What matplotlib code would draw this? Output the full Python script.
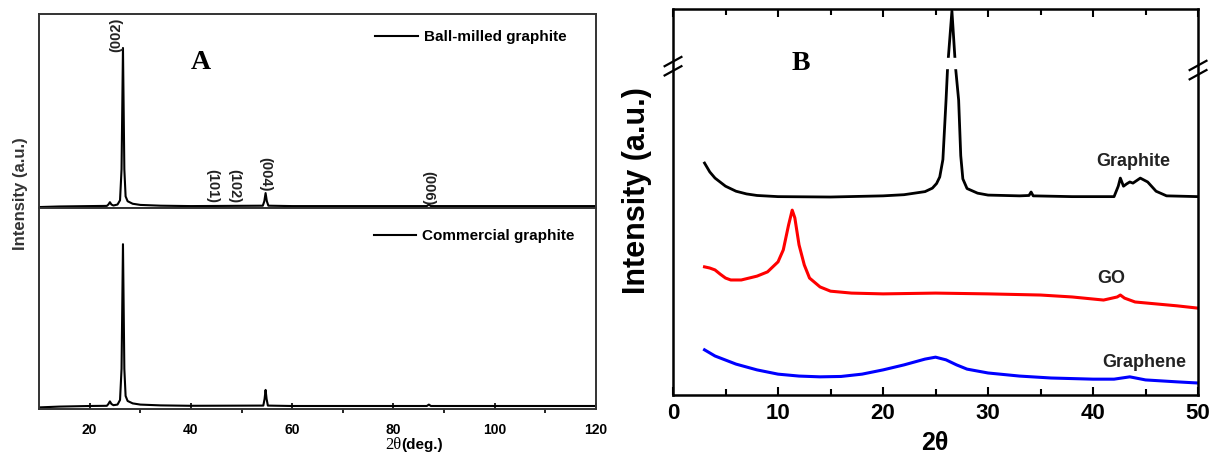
import matplotlib
matplotlib.use("Agg")
import matplotlib.pyplot as plt

plt.rcParams['font.family'] = ['Liberation Sans', 'DejaVu Sans']
plt.rcParams['font.weight'] = 'bold'

# ---- panel A data (intensity in % of panel height)
ball_x = [10, 14, 20, 23.4, 23.7, 24.0, 24.3, 24.7, 25.5, 26.0, 26.3, 26.58, 26.85, 27.1, 27.5,
          28.5, 30, 34, 40, 54.2, 54.5, 54.75, 55.0, 55.3, 60, 86.6, 87.0, 87.4, 100, 120]
ball_y = [0.5, 0.8, 1.0, 1.1, 1.8, 3.0, 1.8, 1.3, 1.8, 4.0, 20, 82.5, 20, 6, 3.5,
          2.2, 1.6, 1.2, 1.0, 1.2, 3.5, 7.7, 3.5, 1.2, 1.0, 1.0, 1.8, 1.0, 1.0, 1.0]

com_x = [10, 14, 20, 23.4, 23.7, 24.0, 24.3, 24.7, 25.5, 26.0, 26.3, 26.58, 26.85, 27.1, 27.5,
         28.5, 30, 34, 40, 54.3, 54.55, 54.75, 54.95, 55.2, 60, 86.6, 87.0, 87.4, 100, 120]
com_y = [0.8, 1.2, 1.5, 1.6, 2.5, 3.8, 2.5, 1.9, 2.2, 4.5, 20, 82, 20, 6.5, 4,
         2.8, 2.2, 1.8, 1.6, 1.7, 5, 9.5, 5, 1.7, 1.5, 1.5, 2.2, 1.5, 1.5, 1.5]

peak_labels = ["(002)", "(101)", "(102)", "(004)", "(006)"]
peak_pos = [25.3, 44.2, 48.5, 54.6, 86.9]
peak_y = [98, 2.5, 2.5, 8.5, 1.5]
peak_rot = [90, 270, 270, 270, 270]

# ---- panel B data
graphite_x = [3, 3.5, 4, 5, 6, 7, 8, 10, 15, 20, 22, 24, 24.7, 25.1, 25.4, 25.7, 26.0, 26.15, 26.56,
              26.9, 27.2, 27.4, 27.6, 28, 29, 30, 33, 33.9, 34.1, 34.3, 38, 42, 42.4, 42.6,
              42.9, 43.2, 43.5, 43.8, 44.5, 45.2, 46, 47, 50]
graphite_y = [60.1, 57.8, 56.2, 54.1, 52.8, 52.1, 51.7, 51.4, 51.3, 51.6, 51.9, 52.7, 53.6, 54.8,
              56.5, 61, 76.4, 85, 99.5, 85, 76.4, 62, 56, 53.5, 52.3, 51.8, 51.6, 51.7, 52.6, 51.6,
              51.4, 51.4, 54.1, 56.2, 54.1, 54.7, 55.2, 54.9, 56.2, 55.2, 52.8, 51.6, 51.4]

go_x = [3, 3.5, 4, 4.5, 5, 5.5, 6.5, 8, 9, 10, 10.5, 11, 11.35, 11.6, 12, 12.5, 13, 14, 15,
        17, 20, 25, 30, 35, 38, 41, 42.3, 42.6, 43, 44, 46, 48, 50]
go_y = [33.2, 32.9, 32.4, 31.3, 30.3, 29.8, 29.8, 30.8, 31.9, 34.5, 37.6, 44, 47.9, 45.9, 38.9,
        33.7, 30.3, 28, 26.9, 26.4, 26.2, 26.4, 26.2, 25.9, 25.4, 24.6, 25.4, 25.9, 25.1,
        24.1, 23.6, 23.1, 22.5]

graphene_x = [3, 4, 6, 8, 10, 12, 14, 16, 18, 20, 22, 24, 25, 26, 27, 28, 30, 33, 36, 40,
              42, 43.5, 45, 48, 50]
graphene_y = [11.7, 10.1, 8.0, 6.5, 5.4, 4.9, 4.7, 4.8, 5.4, 6.5, 7.8, 9.3, 9.8, 9.1, 7.8,
              6.7, 5.7, 4.9, 4.4, 4.1, 4.1, 4.7, 3.9, 3.4, 3.1]

fig = plt.figure(figsize=(12.12, 4.54), dpi=100)

# ================= panel A =================
axA1 = fig.add_axes([0.0322, 0.5418, 0.4595, 0.4273])
axA2 = fig.add_axes([0.0322, 0.0991, 0.4595, 0.4427])

axA1.plot(ball_x, ball_y, color='black', lw=1.5, label='Ball-milled graphite')
axA2.plot(com_x, com_y, color='black', lw=1.5, label='Commercial graphite')

for ax in (axA1, axA2):
    ax.set_xlim(10, 120)
    ax.set_ylim(0, 100)
    ax.set_yticks([])
    for s in ax.spines.values():
        s.set_linewidth(1.4)
        s.set_color('#333333')

axA1.set_xticks([])
axA2.set_xticks([20, 40, 60, 80, 100, 120])
axA2.set_xticks([30, 50, 70, 90, 110], minor=True)
axA2.tick_params(axis='x', which='major', direction='in', length=4, width=1.2, labelsize=10, pad=10)
axA2.tick_params(axis='x', which='minor', direction='out', length=3, width=1.2)
for t in axA2.get_xticklabels():
    t.set_fontweight('bold')

axA1.legend(loc='center right', bbox_to_anchor=(0.948, 0.881), frameon=False, fontsize=11,
            handlelength=2.8, handletextpad=0.4, borderpad=0, borderaxespad=0)
axA2.legend(loc='center right', bbox_to_anchor=(0.962, 0.86), frameon=False, fontsize=11,
            handlelength=2.8, handletextpad=0.4, borderpad=0, borderaxespad=0)

for lab, px, py, rot in zip(peak_labels, peak_pos, peak_y, peak_rot):
    axA1.text(px, py, lab, rotation=rot, fontsize=10.5, ha='center',
              va='top' if rot == 90 else 'bottom', color='#222222')

axA1.text(42, 75, 'A', family='Liberation Serif', fontsize=20, fontweight='bold',
          ha='center', va='center')

fig.text(21 / 1212, 1 - 194 / 454, 'Intensity (a.u.)', rotation=90, fontsize=12,
         ha='center', va='center', color='#333333')
fig.text(401 / 1212, 1 - 445 / 454, '2θ', family='Liberation Serif', fontweight='normal',
         fontsize=12, ha='right', va='center')
fig.text(401 / 1212, 1 - 445 / 454, '(deg.)', fontsize=11, ha='left', va='center')

# ================= panel B =================
axB = fig.add_axes([0.5553, 0.130, 0.4332, 0.850])
axB.plot(graphite_x, graphite_y, color='black', lw=2)
axB.plot(go_x, go_y, color='#ff0000', lw=2.2)
axB.plot(graphene_x, graphene_y, color='#0000ff', lw=2.2)

# axis break on the graphite peak
axB.fill_between([25.5, 27.6], 84.7, 87.3, color='white', zorder=3)
for yb in (84.0, 86.4):
    axB.plot([-0.8, 0.8], [yb - 1.2, yb + 1.2], color='black', lw=1.6, clip_on=False, zorder=5)
    axB.plot([49.2, 50.8], [yb - 2.2, yb + 0.2], color='black', lw=1.6, clip_on=False, zorder=5)

axB.set_xlim(0, 50)
axB.set_ylim(0, 100)
axB.set_yticks([])
axB.set_xticks([0, 10, 20, 30, 40, 50])
axB.set_xticks([5, 15, 25, 35, 45], minor=True)
axB.tick_params(axis='x', which='both', direction='in', top=True, width=1.5, labelsize=16, pad=6)
axB.tick_params(axis='x', which='major', length=6)
axB.tick_params(axis='x', which='minor', length=4)
for t in axB.get_xticklabels():
    t.set_fontweight('bold')
for s in axB.spines.values():
    s.set_linewidth(1.8)

axB.text(43.8, 60.4, 'Graphite', fontsize=13, ha='center', va='center', color='#222222')
axB.text(41.7, 30.3, 'GO', fontsize=13, ha='center', va='center', color='#222222')
axB.text(44.85, 8.3, 'Graphene', fontsize=13, ha='center', va='center', color='#222222')
axB.text(12.2, 86, 'B', family='Liberation Serif', fontsize=20, fontweight='bold',
         ha='center', va='center')

fig.text(637 / 1212, 1 - 191 / 454, 'Intensity (a.u.)', rotation=90, fontsize=22,
         ha='center', va='center')
fig.text(935 / 1212, 1 - 443 / 454, '2θ', fontsize=18, ha='center', va='center')

fig.savefig('out.png', dpi=100)
